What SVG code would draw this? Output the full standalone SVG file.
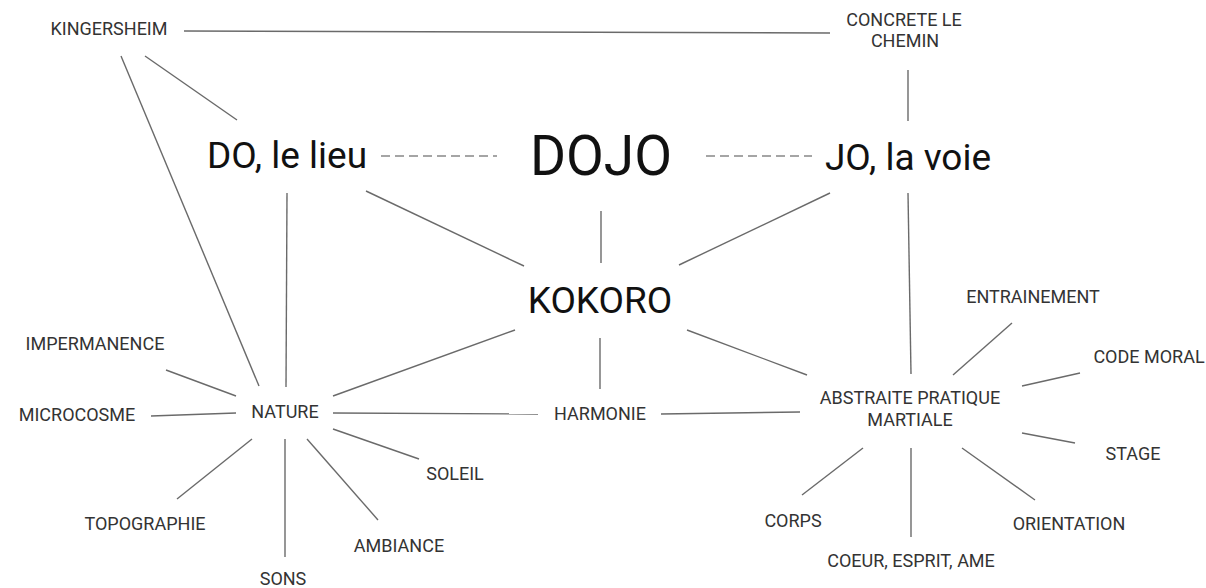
<svg xmlns="http://www.w3.org/2000/svg" width="1206" height="588" viewBox="0 0 1206 588">
<style>
text{font-family:Roboto,"Liberation Sans",sans-serif;text-anchor:middle}
.s{font-size:18px;fill:#333}
.b{font-size:37px;fill:#111}
.d{font-size:55px;fill:#111}
#connectors line{stroke:#6a6a6a;stroke-width:1.4;fill:none}
#connectors line.dash{stroke-dasharray:9,5;stroke:#888}
</style>
<rect width="1206" height="588" fill="#fff"/>
<g id="connectors">
<line x1="184" y1="31" x2="830" y2="33"/>
<line x1="145" y1="56" x2="237" y2="120"/>
<line x1="121" y1="56" x2="259" y2="386"/>
<line x1="908" y1="70" x2="908" y2="121"/>
<line class="dash" x1="381" y1="156" x2="497" y2="156"/>
<line class="dash" x1="706" y1="156" x2="812" y2="156"/>
<line x1="287" y1="193" x2="286" y2="387"/>
<line x1="366" y1="191" x2="524" y2="266"/>
<line x1="601" y1="211" x2="601" y2="263"/>
<line x1="830" y1="193" x2="679" y2="265"/>
<line x1="908" y1="193" x2="911" y2="374"/>
<line x1="515" y1="330" x2="333" y2="396"/>
<line x1="600" y1="338" x2="600" y2="389"/>
<line x1="687" y1="330" x2="807" y2="375"/>
<line x1="333" y1="413" x2="538" y2="414"/>
<line x1="661" y1="414" x2="800" y2="412"/>
<line x1="166" y1="370" x2="236" y2="396"/>
<line x1="151" y1="416" x2="236" y2="413"/>
<line x1="177" y1="499" x2="252" y2="439"/>
<line x1="285" y1="439" x2="285" y2="557"/>
<line x1="307" y1="439" x2="378" y2="520"/>
<line x1="333" y1="429" x2="419" y2="459"/>
<line x1="953" y1="375" x2="1012" y2="323"/>
<line x1="1022" y1="386" x2="1080" y2="373"/>
<line x1="1022" y1="433" x2="1075" y2="443"/>
<line x1="962" y1="448" x2="1035" y2="500"/>
<line x1="863" y1="448" x2="802" y2="495"/>
<line x1="911" y1="448" x2="911" y2="537"/>
</g>
<g id="kingersheim"><text class="s" x="109" y="35">KINGERSHEIM</text></g>
<g id="concrete"><text class="s" x="904" y="26">CONCRETE LE</text><text class="s" x="905" y="47">CHEMIN</text></g>
<g id="do"><text class="b" x="287" y="168">DO, le lieu</text></g>
<g id="dojo"><text class="d" x="601" y="175">DOJO</text></g>
<g id="jo"><text class="b" x="908" y="170">JO, la voie</text></g>
<g id="kokoro"><text class="b" x="600" y="313">KOKORO</text></g>
<g id="nature"><text class="s" x="285" y="418">NATURE</text></g>
<g id="harmonie"><text class="s" x="600" y="420">HARMONIE</text></g>
<g id="abstraite"><text class="s" x="910" y="404">ABSTRAITE PRATIQUE</text><text class="s" x="910" y="426">MARTIALE</text></g>
<g id="entrainement"><text class="s" x="1033" y="303">ENTRAINEMENT</text></g>
<g id="codemoral"><text class="s" x="1149" y="363">CODE MORAL</text></g>
<g id="stage"><text class="s" x="1133" y="460">STAGE</text></g>
<g id="orientation"><text class="s" x="1069" y="530">ORIENTATION</text></g>
<g id="coeur"><text class="s" x="911" y="567">COEUR, ESPRIT, AME</text></g>
<g id="corps"><text class="s" x="793" y="527">CORPS</text></g>
<g id="impermanence"><text class="s" x="95" y="350">IMPERMANENCE</text></g>
<g id="microcosme"><text class="s" x="77" y="421">MICROCOSME</text></g>
<g id="topographie"><text class="s" x="145" y="530">TOPOGRAPHIE</text></g>
<g id="sons"><text class="s" x="283" y="585">SONS</text></g>
<g id="ambiance"><text class="s" x="399" y="552">AMBIANCE</text></g>
<g id="soleil"><text class="s" x="455" y="480">SOLEIL</text></g>
</svg>
